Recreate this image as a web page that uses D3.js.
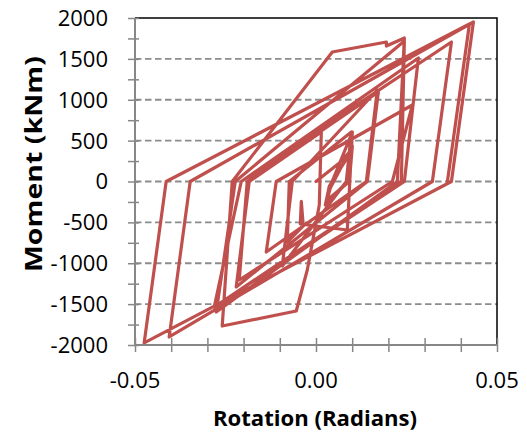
<!DOCTYPE html>
<html><head><meta charset="utf-8">
<script src="https://cdn.jsdelivr.net/npm/d3@7/dist/d3.min.js"></script>
<style>body{margin:0;background:#fff}svg{display:block}</style>
</head><body>
<svg id="chart" width="527" height="437"></svg>
<script>
// Rotation (radians) and moment (kNm), in load order
const rotation = [0.0000,0.00644,0.00976,0.00893,0.00257,0.00368,0.00948,0.00865,0.00285,0.00395,
  0.01004,0.00921,0.00312,0.00395,0.01004,0.00865,-0.00434,-0.00406,-0.00351,-0.00793,
  -0.00738,0.00976,0.00838,-0.00932,-0.00655,0.01695,0.01391,-0.01374,-0.01098,0.02662,
  0.02109,-0.02121,-0.01899,0.01722,0.01418,-0.02204,-0.01844,0.00147,0.00091,-0.00241,
  -0.00545,-0.02591,-0.02314,0.00451,0.01944,0.01944,0.02441,0.02248,-0.02756,-0.02231,
  0.02441,0.02358,-0.02812,-0.02065,0.02828,0.02441,-0.02812,-0.02065,0.03741,0.03215,
  -0.04056,-0.03475,0.04349,0.03741,-0.04747,-0.04139,0.04238,0.03630];
const moment = [0,226,385,0,-287,-55,349,0,-263,-80,
  434,0,-226,-55,605,-593,-520,-244,-544,-740,
  0,605,0,-1034,0,1119,0,-862,0,936,
  0,-1205,0,1095,0,-1290,0,605,-287,-1083,
  -1584,-1768,0,1584,1706,1657,1755,0,-1596,0,
  1719,0,-1535,0,1511,0,-1535,0,1706,0,
  -1902,0,1951,0,-1975,0,1927,0];
const xTicks = [-0.05, 0, 0.05];
const xTickLabels = ["-0.05", "0.00", "0.05"];
const xMinorTicks = [-0.05,-0.04,-0.03,-0.02,-0.01,0,0.01,0.02,0.03,0.04,0.05];
const yTicks = [-2000,-1500,-1000,-500,0,500,1000,1500,2000];
const yTickLabels = ["-2000","-1500","-1000","-500","0","500","1000","1500","2000"];
const yMinorTicks = [-2000,-1750,-1500,-1250,-1000,-750,-500,-250,0,250,500,750,1000,1250,1500,1750,2000];
const gridValues = [-1500,-1000,-500,0,500,1000,1500];
const xTitle = "Rotation (Radians)";
const yTitle = "Moment (kNm)";

const svg = d3.select("#chart");
const L = 135, R = 497, T = 18, B = 345;
const x = d3.scaleLinear().domain([-0.05, 0.05]).range([L, R]);
const y = d3.scaleLinear().domain([-2000, 2000]).range([B, T]);
const font = "'Open Sans', sans-serif";
const axisGrey = "#878787";

// gridlines
svg.append("g").selectAll("line").data(gridValues).join("line")
  .attr("x1", L).attr("x2", R).attr("y1", d => y(d)).attr("y2", d => y(d))
  .attr("stroke", "#8c8c8c").attr("stroke-width", 1.8).attr("stroke-dasharray", "6.5,3.5");

// top and right border
svg.append("path").attr("d", `M${L},${T}H${R}V${B}`).attr("fill", "none")
  .attr("stroke", "#000").attr("stroke-width", 1.5);

// the hysteresis curve
const pts = rotation.map((r, i) => [r, moment[i]]);
svg.append("path").datum(pts)
  .attr("d", d3.line().x(d => x(d[0])).y(d => y(d[1])))
  .attr("fill", "none").attr("stroke", "#C0504D").attr("stroke-width", 3.2)
  .attr("stroke-linejoin", "round").attr("stroke-linecap", "round");

// axes
const gx = svg.append("g").attr("transform", `translate(0,${B})`);
gx.call(d3.axisBottom(x).tickValues(xMinorTicks).tickSize(7).tickFormat(""));
gx.selectAll(".tick line").attr("y1", -7);
gx.call(g => g.select(".domain").remove());
gx.append("line").attr("x1", L).attr("x2", R).attr("stroke", axisGrey).attr("stroke-width", 2);
gx.selectAll(".tick line").attr("stroke", axisGrey).attr("stroke-width", 1.5);
gx.selectAll(".xl").data(xTicks).join("text").attr("class", "xl")
  .attr("x", d => x(d)).attr("y", 43).attr("text-anchor", "middle")
  .attr("font-family", font).attr("font-size", 22).attr("fill", "#000")
  .text((d, i) => xTickLabels[i]);

const gy = svg.append("g").attr("transform", `translate(${L},0)`);
gy.call(d3.axisLeft(y).tickValues(yMinorTicks).tickSize(7).tickFormat(""));
gy.selectAll(".tick line").attr("x1", 4);
gy.call(g => g.select(".domain").remove());
gy.append("line").attr("y1", T).attr("y2", B).attr("stroke", axisGrey).attr("stroke-width", 2);
gy.selectAll(".tick line").attr("stroke", axisGrey).attr("stroke-width", 1.5);
gy.selectAll(".yl").data(yTicks).join("text").attr("class", "yl")
  .attr("x", -27).attr("y", d => y(d)).attr("dy", "0.36em").attr("text-anchor", "end")
  .attr("font-family", font).attr("font-size", 22).attr("fill", "#000")
  .text((d, i) => yTickLabels[i]);

// titles
svg.append("text").attr("x", 315).attr("y", 426).attr("text-anchor", "middle")
  .attr("font-family", font).attr("font-weight", "bold").attr("font-size", 22)
  .attr("textLength", 204).attr("lengthAdjust", "spacingAndGlyphs").text(xTitle);
svg.append("text").attr("transform", "translate(42,164) rotate(-90)").attr("text-anchor", "middle")
  .attr("font-family", font).attr("font-weight", "bold").attr("font-size", 24)
  .attr("textLength", 216).attr("lengthAdjust", "spacingAndGlyphs").text(yTitle);
</script>
</body></html>
